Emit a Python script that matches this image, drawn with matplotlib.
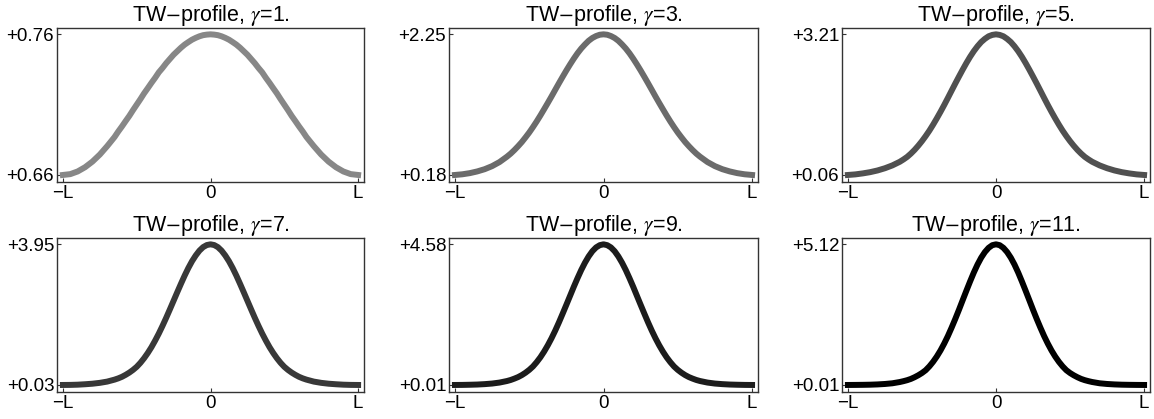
import numpy as np
import matplotlib
matplotlib.use('Agg')
import matplotlib.pyplot as plt

plt.rcParams['font.family'] = ['Liberation Sans', 'DejaVu Sans']
plt.rcParams['mathtext.fontset'] = 'stix'

# half profiles, read from x = -L to x = 0 (the curves are symmetric about 0)
x_half = np.array([-1, -0.95, -0.9, -0.85, -0.8, -0.75, -0.7, -0.65,
                   -0.625, -0.6, -0.575, -0.55, -0.525, -0.5, -0.475, -0.45,
                   -0.425, -0.4, -0.375, -0.35, -0.325, -0.3, -0.275, -0.25,
                   -0.225, -0.2, -0.175, -0.15, -0.125, -0.1, -0.075, -0.05,
                   -0.025, 0])

gammas = [1, 3, 5, 7, 9, 11]

prof_g1 = [0.660, 0.6606, 0.6625, 0.6655, 0.6695, 0.6745, 0.6805, 0.687,
           0.6909, 0.6945, 0.6983, 0.702, 0.7061, 0.710, 0.7139, 0.718,
           0.7217, 0.7255, 0.7291, 0.733, 0.7361, 0.7395, 0.7425, 0.7455,
           0.748, 0.7505, 0.7527, 0.7545, 0.7562, 0.7575, 0.7586, 0.7594,
           0.7598, 0.760]
prof_g3 = [0.180, 0.190, 0.207, 0.232, 0.265, 0.310, 0.370, 0.449,
           0.494, 0.546, 0.603, 0.664, 0.733, 0.805, 0.884, 0.967,
           1.055, 1.147, 1.240, 1.335, 1.433, 1.530, 1.625, 1.718,
           1.807, 1.892, 1.971, 2.041, 2.101, 2.155, 2.196, 2.225,
           2.244, 2.250]
prof_g5 = [0.060, 0.073, 0.095, 0.123, 0.161, 0.211, 0.274, 0.355,
           0.407, 0.465, 0.538, 0.621, 0.715, 0.818, 0.931, 1.052,
           1.185, 1.326, 1.473, 1.626, 1.785, 1.947, 2.108, 2.265,
           2.419, 2.567, 2.706, 2.832, 2.942, 3.037, 3.109, 3.166,
           3.197, 3.210]
prof_g7 = [0.030, 0.032, 0.038, 0.050, 0.065, 0.089, 0.124, 0.179,
           0.214, 0.257, 0.312, 0.375, 0.449, 0.536, 0.646, 0.775,
           0.921, 1.084, 1.268, 1.465, 1.679, 1.904, 2.139, 2.378,
           2.617, 2.852, 3.080, 3.291, 3.480, 3.640, 3.774, 3.872,
           3.930, 3.950]
prof_g9 = [0.010, 0.012, 0.017, 0.024, 0.037, 0.056, 0.088, 0.138,
           0.172, 0.216, 0.266, 0.330, 0.408, 0.500, 0.610, 0.750,
           0.909, 1.093, 1.299, 1.527, 1.776, 2.044, 2.327, 2.615,
           2.907, 3.200, 3.479, 3.744, 3.981, 4.187, 4.356, 4.479,
           4.553, 4.580]
prof_g11 = [0.010, 0.012, 0.015, 0.020, 0.030, 0.046, 0.071, 0.117,
            0.148, 0.184, 0.230, 0.291, 0.362, 0.445, 0.546, 0.685,
            0.850, 1.042, 1.262, 1.512, 1.787, 2.090, 2.409, 2.744,
            3.091, 3.434, 3.771, 4.093, 4.384, 4.635, 4.839, 4.992,
            5.089, 5.120]

profiles = [prof_g1, prof_g3, prof_g5, prof_g7, prof_g9, prof_g11]
y_min = [0.66, 0.18, 0.06, 0.03, 0.01, 0.01]
y_max = [0.76, 2.25, 3.21, 3.95, 4.58, 5.12]

grays = ['#878787', '#6b6b6b', '#505050', '#383838', '#1c1c1c', '#000000']

fig = plt.figure(figsize=(11.54, 4.19), dpi=100)

# panel frames in pixels
lefts = [57, 449, 842]
widths = [307, 309, 308]
tops = [28, 238]
H = 154
W, Hf = 1154, 419

for i, g in enumerate(gammas):
    r, c = divmod(i, 3)
    ax = fig.add_axes([lefts[c] / W, 1 - (tops[r] + H) / Hf, widths[c] / W, H / Hf])

    half = np.array(profiles[i])
    x = np.concatenate([x_half, -x_half[-2::-1]])
    y = np.concatenate([half, half[-2::-1]])
    ax.plot(x, y, color=grays[i], lw=4.3, solid_capstyle='projecting',
            solid_joinstyle='round')

    ax.set_xlim(-1.04, 1.04)
    span = y_max[i] - y_min[i]
    ax.set_ylim(y_min[i] - 0.05 * span, y_max[i] + 0.045 * span)

    ax.set_xticks([-1, 0, 1])
    ax.set_xticklabels(['\u2212L', '0', 'L'])
    ax.set_yticks([y_min[i], y_max[i]])
    ax.set_yticklabels(['+%.2f' % y_min[i], '+%.2f' % y_max[i]])
    ax.tick_params(direction='in', length=3, width=0.8, labelsize=13.5, pad=2,
                   color='#333333')

    for s in ax.spines.values():
        s.set_color('#333333')
        s.set_linewidth(1.0)

    ax.set_title(r'TW$-$profile, $\gamma$=%d.' % g, fontsize=15.5, pad=4)

fig.savefig('out.png', dpi=100)
